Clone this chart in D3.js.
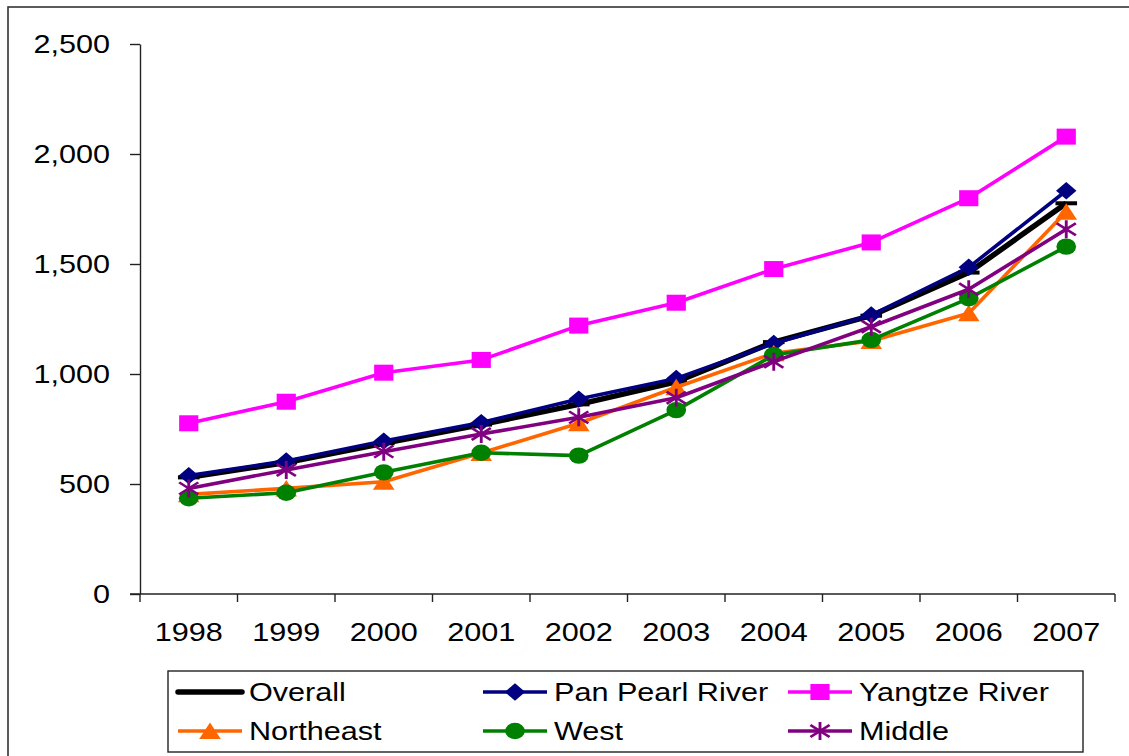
<!DOCTYPE html>
<html>
<head>
<meta charset="utf-8">
<script src="https://cdn.jsdelivr.net/npm/d3@7"></script>
<style>
  html, body { margin: 0; padding: 0; background: #fff; }
  svg { display: block; font-family: "Liberation Sans", Arial, sans-serif; }
</style>
</head>
<body>
<svg id="chart" width="1129" height="756"></svg>
<script>
// Category labels and series values
const years = ["1998", "1999", "2000", "2001", "2002", "2003", "2004", "2005", "2006", "2007"];
const overall   = [530, 598, 685, 770, 862, 965, 1145, 1265, 1461, 1776];
const panPearl  = [538, 605, 695, 779, 886, 980, 1139, 1268, 1485, 1833];
const yangtze   = [776, 874, 1006, 1064, 1220, 1324, 1477, 1598, 1799, 2079];
const northeast = [453, 480, 510, 641, 776, 940, 1094, 1150, 1276, 1738];
const west      = [435, 460, 553, 642, 629, 836, 1086, 1155, 1344, 1579];
const middle    = [480, 564, 647, 727, 803, 892, 1056, 1215, 1385, 1658];
const yTicks    = [0, 500, 1000, 1500, 2000, 2500];

const series = [
  { name: "Overall",          values: overall,   color: "#000000", width: 5.5, marker: "dash" },
  { name: "Pan Pearl River",  values: panPearl,  color: "#000080", width: 3.6, marker: "diamond" },
  { name: "Yangtze River",    values: yangtze,   color: "#FF00FF", width: 3.6, marker: "square" },
  { name: "Northeast",        values: northeast, color: "#FF6600", width: 3.6, marker: "triangle" },
  { name: "West",             values: west,      color: "#008000", width: 3.6, marker: "circle" },
  { name: "Middle",           values: middle,    color: "#800080", width: 3.6, marker: "star" }
];

const SX = 1.2;           // horizontal stretch applied to glyphs and markers
const FONT = 25.5;

const svg = d3.select("#chart");

// Outer chart frame
svg.append("rect")
  .attr("x", 8).attr("y", 7)
  .attr("width", 1140).attr("height", 770)
  .attr("fill", "none").attr("stroke", "#333").attr("stroke-width", 1.6);

const plot = { left: 140, right: 1115, top: 44, bottom: 594 };

const x = d3.scaleBand().domain(years).range([plot.left, plot.right]);
const y = d3.scaleLinear().domain([0, 2500]).range([plot.bottom, plot.top]);

// Y axis
const yAxis = svg.append("g")
  .attr("transform", `translate(${plot.left},0)`)
  .call(d3.axisLeft(y).tickValues(yTicks).tickFormat(d3.format(","))
        .tickSizeInner(10).tickSizeOuter(0).tickPadding(20));
yAxis.select(".domain").attr("stroke", "#222").attr("stroke-width", 1.4);
yAxis.selectAll(".tick line").attr("stroke", "#222").attr("stroke-width", 1.4);
yAxis.selectAll(".tick text")
  .attr("font-size", FONT).attr("fill", "#000").attr("font-family", null)
  .each(function () {
    const t = d3.select(this);
    t.attr("x", +t.attr("x") / SX).attr("transform", `scale(${SX},1)`);
  });

// X axis: labels centred in each category, tick marks on category edges
const xAxis = svg.append("g")
  .attr("transform", `translate(0,${plot.bottom})`)
  .call(d3.axisBottom(x).tickSizeInner(0).tickSizeOuter(0).tickPadding(29));
xAxis.select(".domain").remove();
xAxis.selectAll(".tick text")
  .attr("font-size", FONT).attr("fill", "#000").attr("font-family", null)
  .attr("transform", `scale(${SX},1)`);

svg.append("line")
  .attr("x1", plot.left - 10).attr("x2", plot.right)
  .attr("y1", plot.bottom).attr("y2", plot.bottom)
  .attr("stroke", "#222").attr("stroke-width", 1.4);

const edges = years.map(d => x(d)).concat([x.range()[1]]);
svg.append("g").selectAll("line").data(edges).join("line")
  .attr("x1", d => d).attr("x2", d => d)
  .attr("y1", plot.bottom).attr("y2", plot.bottom + 8)
  .attr("stroke", "#222").attr("stroke-width", 1.4);

// Marker drawing, shapes defined in unstretched units
function drawMarker(g, type, color) {
  const m = g.append("g").attr("transform", `scale(${SX},1)`);
  switch (type) {
    case "dash":
      m.append("rect").attr("x", -9).attr("y", -2).attr("width", 18).attr("height", 4).attr("fill", color);
      break;
    case "diamond":
      m.append("path").attr("d", "M0,-8.7L8.5,0L0,8.7L-8.5,0Z").attr("fill", color);
      break;
    case "square":
      m.append("rect").attr("x", -8).attr("y", -8).attr("width", 16).attr("height", 16).attr("fill", color);
      break;
    case "triangle":
      m.append("path").attr("d", "M0,-8.5L9,8L-9,8Z").attr("fill", color);
      break;
    case "circle":
      m.append("circle").attr("r", 8.2).attr("fill", color);
      break;
    case "star":
      m.append("path").attr("d", "M0,-9L0,9M-8,-6L8,6M-8,6L8,-6")
        .attr("stroke", color).attr("stroke-width", 2.4).attr("fill", "none");
      break;
  }
}

const line = d3.line()
  .x((d, i) => x(years[i]) + x.bandwidth() / 2)
  .y(d => y(d));

// Series lines and markers
series.forEach(s => {
  const g = svg.append("g");
  g.append("path")
    .attr("d", line(s.values))
    .attr("fill", "none")
    .attr("stroke", s.color)
    .attr("stroke-width", s.width)
    .attr("stroke-linejoin", "round");
  s.values.forEach((v, i) => {
    const mg = g.append("g")
      .attr("transform", `translate(${x(years[i]) + x.bandwidth() / 2},${y(v)})`);
    drawMarker(mg, s.marker, s.color);
  });
});

// Legend
const legend = svg.append("g");
legend.append("rect")
  .attr("x", 168).attr("y", 671).attr("width", 915).attr("height", 81)
  .attr("fill", "#fff").attr("stroke", "#222").attr("stroke-width", 1.4);

const colX = [178, 483, 788];
const rowY = [692, 731];
series.forEach((s, i) => {
  const cx = colX[i % 3], cy = rowY[Math.floor(i / 3)];
  const item = legend.append("g").attr("transform", `translate(${cx},${cy})`);
  item.append("line")
    .attr("x1", 0).attr("x2", 64).attr("y1", 0).attr("y2", 0)
    .attr("stroke", s.color).attr("stroke-width", s.width)
    .attr("stroke-linecap", s.marker === "dash" ? "round" : "butt");
  const mg = item.append("g").attr("transform", "translate(32,0)");
  drawMarker(mg, s.marker, s.color);
  item.append("text")
    .attr("x", 71 / SX).attr("dy", "0.35em")
    .attr("transform", `scale(${SX},1)`)
    .attr("font-size", FONT).attr("fill", "#000")
    .text(s.name);
});
</script>
</body>
</html>
